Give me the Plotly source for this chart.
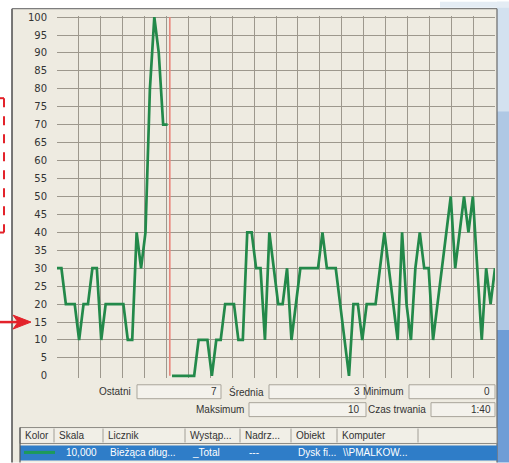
import numpy as np
import plotly.graph_objects as go

# Disk queue length samples (counter scale 10), newest run ending at the cursor
recent_values = [30, 30, 20, 20, 20, 10, 20, 20, 30, 30, 10, 20, 20,
                 20, 20, 20, 10, 10, 40, 30, 40, 80, 100, 90, 70, 70]
# Older samples still shown to the right of the cursor
older_values = [0, 0, 0, 0, 0, 0, 10, 10, 10, 0, 10, 10, 20, 20, 20,
                10, 10, 40, 40, 30, 30, 10, 40, 30, 20, 20, 30, 10, 20,
                30, 30, 30, 30, 30, 40, 30, 30, 30, 20, 10, 0, 20, 20,
                10, 20, 20, 20, 30, 40, 30, 20, 10, 40, 20, 10, 30, 40,
                30, 30, 10, 20, 30, 40, 50, 30, 40, 50, 40, 50, 30, 10,
                30, 20, 30]
y_ticks = list(range(0, 101, 5))
counter_scale = 10

stat_labels_row1 = ["Ostatni", "Średnia", "Minimum"]
stat_labels_row2 = ["Maksimum", "Czas trwania"]
duration_text = "1:40"
table_headers = ["Kolor", "Skala", "Licznik", "Wystąp...", "Nadrz...", "Obiekt", "Komputer"]
table_row = ["", "10,000", "Bieżąca dług...", "_Total", "---", "Dysk fi...", "\\\\PMALKOW..."]

n_samples = len(recent_values) + len(older_values)
x_recent = np.arange(len(recent_values))
x_older = np.arange(len(recent_values), n_samples)
cursor_x = len(recent_values) - 0.5

all_values = np.array(recent_values + older_values)
stat_last = recent_values[-1] / counter_scale
stat_avg = all_values.mean() / counter_scale
stat_min = all_values.min() / counter_scale
stat_max = all_values.max() / counter_scale

# Page geometry (pixels)
W, H = 509, 463
L, R, T, B = 57, 495, 14.4, 378.2
Y_RANGE = [-0.6, 100.3]


def px(x):
    return (x - L) / (R - L)


def py(y):
    return (B - y) / (B - T)


GREEN = "#23894A"
GRID = "#9D988D"
BEIGE = "#EEEBE1"
TICK_FONT = "DejaVu Sans"
FONT = "Liberation Sans"
TXT = "#333333"

fig = go.Figure()
fig.add_trace(go.Scatter(x=x_recent, y=recent_values, mode="lines",
                         line=dict(color=GREEN, width=2.7), hoverinfo="skip"))
fig.add_trace(go.Scatter(x=x_older, y=older_values, mode="lines",
                         line=dict(color=GREEN, width=2.7), hoverinfo="skip"))

shapes = []


def rect(x0, y0, x1, y1, fill, line=None, lw=1, layer="below"):
    shapes.append(dict(type="rect", xref="paper", yref="paper",
                       x0=px(x0), x1=px(x1), y0=py(y1), y1=py(y0),
                       fillcolor=fill, layer=layer,
                       line=dict(color=line or "rgba(0,0,0,0)", width=lw if line else 0)))


def seg(x0, y0, x1, y1, color, lw=1, dash="solid", layer="above"):
    shapes.append(dict(type="line", xref="paper", yref="paper",
                       x0=px(x0), x1=px(x1), y0=py(y0), y1=py(y1), layer=layer,
                       line=dict(color=color, width=lw, dash=dash)))


# desktop strip on the right
rect(497, 0, 509, 110, "#D3E1EF")
rect(497, 110, 509, 330, "#AFC8E4")
rect(497, 330, 509, 463, "#6F9DD6")
rect(440, 0, 509, 6, "#E4ECF4")

# window panel
rect(12, 7, 497, 463, BEIGE)
seg(12, 7, 12, 463, "#4C4C4C", 1.5, layer="below")
seg(12, 7, 497, 7, "#7E7E7E", 1.2, layer="below")
seg(497, 7, 497, 463, "#6A6A6A", 1.2, layer="below")

# statistics fields
for (x0, x1, y0) in [(137, 221, 385), (269, 366, 385), (409, 495, 385),
                     (249, 366, 403), (431, 495, 403)]:
    rect(x0, y0, x1, y0 + 14, "#F4F2EC", "#A9A59B", 1)

# counter list header and selected row
rect(20, 428, 497, 444, "#F1EFE7", "#8C8A84", 1)
for sx in [54, 103, 185, 240, 291, 337, 418]:
    seg(sx, 429, sx, 443, "#A19E96", 1, layer="below")
rect(20, 446, 497, 461, "#2F7DC8")
seg(20, 428, 20, 463, "#555555", 1.2, layer="below")
seg(24, 453, 55, 453, "#1E9A5A", 3)

# red markup at the left edge
seg(0, 97, 4, 97, "#E3232B", 2, "dash")
seg(4, 97, 4, 232, "#E3232B", 2, "dash")
seg(0, 232, 4, 232, "#E3232B", 2, "dash")
seg(0, 322, 20, 322, "#E3232B", 2.5)
shapes.append(dict(type="path", xref="paper", yref="paper", layer="above",
                   path=(f"M{px(31)},{py(322)} L{px(13)},{py(315)} "
                         f"L{px(18)},{py(322)} L{px(13)},{py(329)} Z"),
                   fillcolor="#E3232B", line=dict(color="#E3232B", width=1)))

# current-time cursor
shapes.append(dict(type="line", xref="x", yref="y", x0=cursor_x, x1=cursor_x,
                   y0=0, y1=100, layer="above",
                   line=dict(color="#E8877C", width=1.6)))

annotations = []


def text(x, y, s, anchor="left", color=TXT, size=10):
    annotations.append(dict(xref="paper", yref="paper", x=px(x), y=py(y),
                            text=s, showarrow=False, xanchor=anchor, yanchor="middle",
                            font=dict(family=FONT, size=size, color=color)))


text(133, 392, stat_labels_row1[0], "right")
text(219, 392, f"{stat_last:.0f}", "right")
text(266, 392, stat_labels_row1[1], "right")
text(362, 392, f"{stat_avg:.0f}", "right")
text(406, 392, stat_labels_row1[2], "right")
text(492, 392, f"{stat_min:.0f}", "right")
text(246, 410, stat_labels_row2[0], "right")
text(362, 410, f"{stat_max:.0f}", "right")
text(428, 410, stat_labels_row2[1], "right")
text(493, 410, duration_text, "right")

for hx, h in zip([23, 57, 106, 188, 243, 294, 340], table_headers):
    text(hx, 436, h)
for cx, c in zip([23, 64, 108, 190, 247, 296, 341], table_row):
    if c:
        text(cx, 453.5, c, color="white")

grid_x = [i * (n_samples - 1) / 20 for i in range(21)]

fig.update_layout(
    width=W, height=H,
    margin=dict(l=L, r=W - R, t=T, b=H - B, pad=0),
    paper_bgcolor="white", plot_bgcolor=BEIGE,
    showlegend=False,
    shapes=shapes, annotations=annotations,
    xaxis=dict(range=[0, n_samples - 1], tickvals=grid_x, showticklabels=False,
               showgrid=True, gridcolor=GRID, gridwidth=1.4, zeroline=False,
               showline=False, fixedrange=True),
    yaxis=dict(range=Y_RANGE, tickvals=y_ticks, ticktext=[str(v) for v in y_ticks],
               showgrid=False, zeroline=False, showline=False,
               ticks="outside", ticklen=7, tickcolor="rgba(0,0,0,0)",
               tickfont=dict(family=TICK_FONT, size=10, color=TXT)),
    yaxis2=dict(range=Y_RANGE, overlaying="y", tickvals=y_ticks[1:],
                showticklabels=False, showgrid=True, gridcolor=GRID,
                gridwidth=1.4, zeroline=False),
)
# invisible trace binding the grid axis
fig.add_trace(go.Scatter(x=[0], y=[0], yaxis="y2", mode="markers",
                         marker=dict(opacity=0), hoverinfo="skip"))

fig.write_html("out.html")
